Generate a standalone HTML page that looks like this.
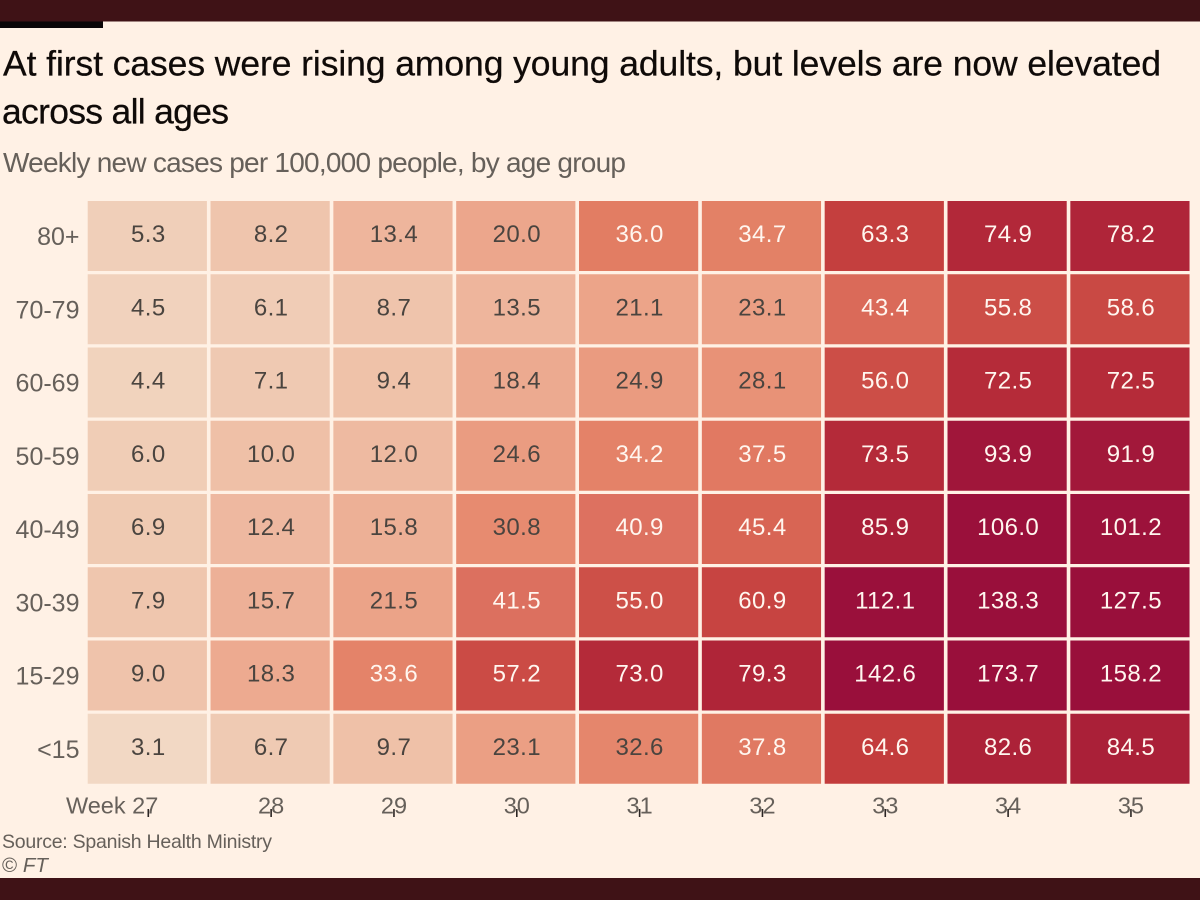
<!DOCTYPE html>
<html lang="en">
<head>
<meta charset="utf-8">
<title>Weekly new cases per 100,000 people, by age group</title>
<style>
html,body{margin:0;padding:0;background:#fff1e5;}
body{width:1200px;height:900px;overflow:hidden;}
svg{display:block;font-family:"Liberation Sans",sans-serif;}
</style>
</head>
<body>
<svg id="chart" width="1200" height="900" viewBox="0 0 1200 900" xmlns="http://www.w3.org/2000/svg">
  <rect x="0" y="0" width="1200" height="900" fill="#fff1e5"/>
  <rect x="0" y="0" width="1200" height="21.5" fill="#3f1216"/>
  <rect x="0" y="21.5" width="103" height="6.5" fill="#0a0607"/>
  <rect x="0" y="878" width="1200" height="22" fill="#3f1216"/>
  <text x="3" y="75.5" font-size="35.5" fill="#0f0a08" stroke="#0f0a08" stroke-width="0.25" textLength="1158" lengthAdjust="spacing">At first cases were rising among young adults, but levels are now elevated</text>
  <text x="2" y="123.5" font-size="35.5" fill="#0f0a08" stroke="#0f0a08" stroke-width="0.25" textLength="227" lengthAdjust="spacing">across all ages</text>
  <text x="3" y="172" font-size="28" fill="#66605a" textLength="623" lengthAdjust="spacing">Weekly new cases per 100,000 people, by age group</text>
  <g id="cells"></g>
  <g id="y-axis"></g>
  <g id="x-axis"></g>
  <text x="2" y="848" font-size="19.5" fill="#66605a" textLength="270" lengthAdjust="spacing">Source: Spanish Health Ministry</text>
  <text x="2" y="872" font-size="20.5" fill="#66605a">© <tspan font-style="italic">FT</tspan></text>
</svg>
<script>
const ageGroups = ["80+", "70-79", "60-69", "50-59", "40-49", "30-39", "15-29", "<15"];
const weekLabels = ["Week 27", "28", "29", "30", "31", "32", "33", "34", "35"];
const rate80plus = [5.3, 8.2, 13.4, 20.0, 36.0, 34.7, 63.3, 74.9, 78.2];
const rate70to79 = [4.5, 6.1, 8.7, 13.5, 21.1, 23.1, 43.4, 55.8, 58.6];
const rate60to69 = [4.4, 7.1, 9.4, 18.4, 24.9, 28.1, 56.0, 72.5, 72.5];
const rate50to59 = [6.0, 10.0, 12.0, 24.6, 34.2, 37.5, 73.5, 93.9, 91.9];
const rate40to49 = [6.9, 12.4, 15.8, 30.8, 40.9, 45.4, 85.9, 106.0, 101.2];
const rate30to39 = [7.9, 15.7, 21.5, 41.5, 55.0, 60.9, 112.1, 138.3, 127.5];
const rate15to29 = [9.0, 18.3, 33.6, 57.2, 73.0, 79.3, 142.6, 173.7, 158.2];
const rateUnder15 = [3.1, 6.7, 9.7, 23.1, 32.6, 37.8, 64.6, 82.6, 84.5];
const seriesByAge = [rate80plus, rate70to79, rate60to69, rate50to59, rate40to49, rate30to39, rate15to29, rateUnder15];

const colorDomain = [3, 5.3, 8, 13.5, 20, 24.9, 30.8, 36, 41, 45, 56, 64.6, 73, 84.5, 94, 106, 125];
const colorRange = ["#f2d8c4", "#f0cfb9", "#efc6ae", "#eeb59c", "#eca68c", "#ea9b80", "#e78b70", "#e27d63", "#dd7160", "#d86655", "#cc4e47", "#c33c3c", "#b42a39", "#aa2038", "#a0163a", "#9a103b", "#990f3b"];

const NS = "http://www.w3.org/2000/svg";
const plotLeft = 87.7, colStep = 122.83, cellWidth = 119.2;
const plotTop = 201, rowStep = 73.25, cellHeight = 70;
const lightTextFrom = 33;

function xScale(col) { return plotLeft + col * colStep; }
function yScale(row) { return plotTop + row * rowStep; }
function hexToRgb(hex) {
  return [1, 3, 5].map(function (i) { return parseInt(hex.slice(i, i + 2), 16); });
}
function colorScale(value) {
  if (value <= colorDomain[0]) return colorRange[0];
  for (let i = 1; i < colorDomain.length; i++) {
    if (value <= colorDomain[i]) {
      const t = (value - colorDomain[i - 1]) / (colorDomain[i] - colorDomain[i - 1]);
      const a = hexToRgb(colorRange[i - 1]), b = hexToRgb(colorRange[i]);
      return "rgb(" + a.map(function (c, k) { return Math.round(c + (b[k] - c) * t); }).join(",") + ")";
    }
  }
  return colorRange[colorRange.length - 1];
}
function svgEl(tag, attrs, text) {
  const el = document.createElementNS(NS, tag);
  Object.keys(attrs).forEach(function (k) { el.setAttribute(k, attrs[k]); });
  if (text !== undefined) el.textContent = text;
  return el;
}

const cellsGroup = document.getElementById("cells");
const yGroup = document.getElementById("y-axis");
const xGroup = document.getElementById("x-axis");

seriesByAge.forEach(function (series, row) {
  series.forEach(function (value, col) {
    const rect = svgEl("rect", { x: xScale(col), y: yScale(row), width: cellWidth, height: cellHeight, fill: colorScale(value) });
    
    
    cellsGroup.appendChild(rect);
    const label = svgEl("text", {
      x: xScale(col) + cellWidth / 2 + 1,
      y: yScale(row) + 41,
      "text-anchor": "middle",
      "font-size": 24,
      "letter-spacing": 0.4,
      fill: value >= lightTextFrom ? "#fff6ef" : "#4a443f"
    }, value.toFixed(1));
    
    
    cellsGroup.appendChild(label);
  });
});

ageGroups.forEach(function (age, row) {
  const label = svgEl("text", { x: 79.5, y: yScale(row) + 44, "text-anchor": "end", "font-size": 25, fill: "#66605a" }, age);
  
  
  yGroup.appendChild(label);
});

weekLabels.forEach(function (week, col) {
  const tickX = xScale(col) + cellWidth / 2 + 1;
  const isFirst = col === 0;
  const label = svgEl("text", {
    x: isFirst ? tickX + 10 : tickX,
    y: 813.5,
    "text-anchor": isFirst ? "end" : "middle",
    "font-size": 23.5,
    fill: "#66605a"
  }, week);
  
  
  xGroup.appendChild(label);
  const tick = svgEl("line", { x1: tickX, x2: tickX, y1: 809, y2: 817, stroke: "#2b2523", "stroke-width": 1.6 });
  
  
  xGroup.appendChild(tick);
});
</script>
</body>
</html>
